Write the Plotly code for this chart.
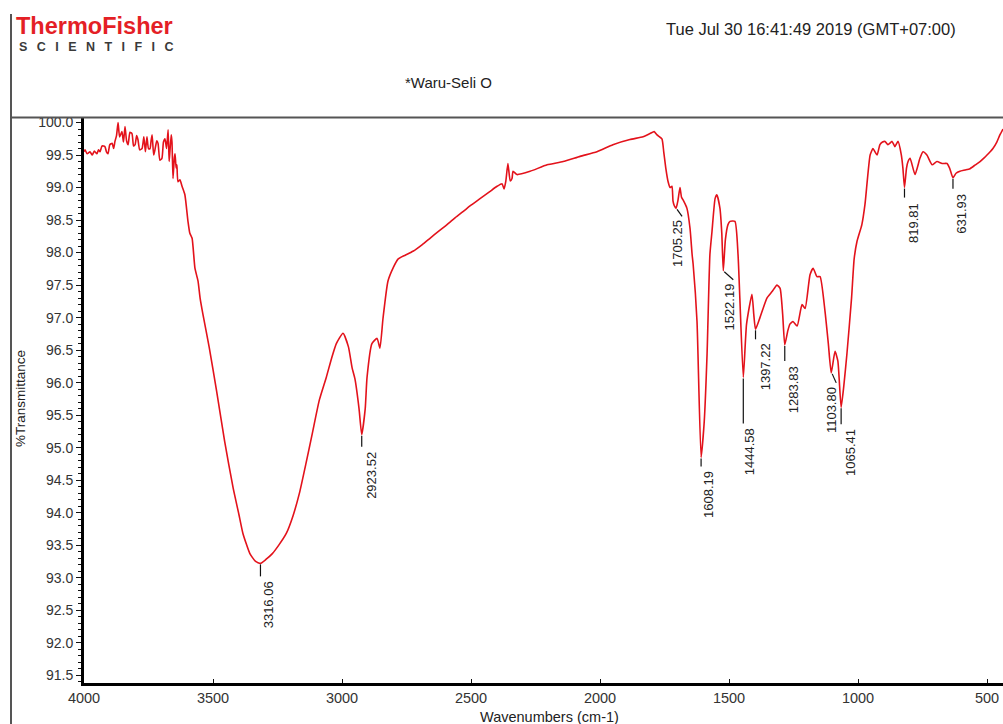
import plotly.graph_objects as go

# FT-IR spectrum: wavenumber (cm-1) vs %Transmittance
wavenumber = [
    4000, 3996, 3988, 3977, 3968, 3960, 3950, 3944, 3938, 3930, 3919, 3913, 3907,
    3900, 3891, 3885, 3880, 3874, 3868, 3862, 3853, 3847, 3841, 3835, 3829, 3822,
    3814, 3808, 3802, 3796, 3791, 3784, 3775, 3768, 3762, 3756, 3750, 3744, 3740,
    3736, 3730, 3725, 3718, 3713, 3706, 3698, 3692, 3686, 3680, 3674, 3670, 3667,
    3662, 3659, 3655, 3650, 3647, 3643, 3640, 3636, 3628, 3620, 3609, 3597, 3590,
    3581, 3570, 3558, 3550, 3539, 3515, 3486, 3455, 3422, 3400, 3384, 3357, 3335,
    3295, 3270, 3245, 3216, 3190, 3165, 3140, 3115, 3088, 3061, 3040, 3022, 2996,
    2975, 2961, 2950, 2934, 2910, 2903, 2884, 2864, 2853, 2841, 2822, 2800, 2783,
    2755, 2725, 2690, 2659, 2625, 2593, 2560, 2531, 2500, 2465, 2430, 2399, 2380,
    2372, 2365, 2357, 2348, 2341, 2337, 2322, 2271, 2205, 2143, 2077, 2012, 1950,
    1884, 1833, 1806, 1790, 1779, 1760, 1753, 1745, 1736, 1728, 1721, 1717, 1712,
    1698, 1690, 1684, 1678, 1663, 1651, 1643, 1639, 1624, 1596, 1585, 1574, 1566,
    1554, 1547, 1535, 1528, 1514, 1504, 1496, 1477, 1465, 1458, 1432, 1411, 1404,
    1380, 1353, 1333, 1314, 1302, 1292, 1272, 1264, 1252, 1236, 1217, 1205, 1186,
    1174, 1159, 1147, 1128, 1115, 1089, 1078, 1055, 1043, 1025, 1015, 1004, 985,
    973, 953, 942, 934, 926, 915, 905, 895, 884, 868, 857, 845, 832, 826, 812, 806,
    798, 779, 760, 748, 733, 713, 694, 674, 655, 645, 620, 605, 585, 566, 545, 527,
    510, 500, 488, 477, 462, 450, 438,
]
transmittance = [
    99.55, 99.58, 99.52, 99.55, 99.50, 99.56, 99.52, 99.58, 99.55, 99.64, 99.63, 99.55, 99.52,
    99.66, 99.68, 99.60, 99.71, 99.80, 100.00, 99.78, 99.86, 99.70, 99.94, 99.72, 99.66, 99.85,
    99.83, 99.64, 99.66, 99.80, 99.74, 99.58, 99.60, 99.78, 99.55, 99.78, 99.60, 99.60, 99.72,
    99.81, 99.50, 99.58, 99.72, 99.68, 99.42, 99.45, 99.70, 99.75, 99.60, 99.89, 99.40, 99.55,
    99.81, 99.70, 99.14, 99.45, 99.52, 99.30, 99.35, 99.09, 99.12, 99.02, 98.89, 98.48, 98.30,
    98.22, 97.76, 97.56, 97.30, 97.05, 96.55, 95.87, 95.10, 94.38, 93.98, 93.68, 93.37, 93.25,
    93.28, 93.37, 93.50, 93.68, 93.95, 94.30, 94.75, 95.22, 95.73, 96.08, 96.38, 96.60, 96.76,
    96.55, 96.23, 96.06, 95.60, 95.60, 96.08, 96.60, 96.68, 96.53, 96.99, 97.56, 97.78, 97.90,
    97.96, 98.02, 98.12, 98.22, 98.33, 98.43, 98.54, 98.63, 98.73, 98.83, 98.93, 99.02, 99.06,
    98.98, 99.10, 99.37, 99.10, 99.14, 99.25, 99.20, 99.25, 99.35, 99.40, 99.48, 99.55, 99.66,
    99.74, 99.78, 99.83, 99.86, 99.81, 99.75, 99.55, 99.30, 99.09, 99.00, 99.02, 98.79, 98.72,
    98.80, 99.00, 98.85, 98.81, 98.68, 98.37, 97.97, 97.82, 96.94, 95.40, 96.44, 97.97, 98.32,
    98.83, 98.89, 98.68, 98.30, 98.20, 98.43, 98.48, 98.48, 97.97, 97.30, 96.90, 97.36, 97.05,
    97.00, 97.30, 97.40, 97.50, 97.45, 97.05, 96.80, 96.90, 96.94, 96.87, 97.20, 97.14, 97.66,
    97.76, 97.63, 97.63, 97.10, 96.60, 96.48, 96.33, 95.95, 96.44, 97.30, 97.90, 98.17, 98.43,
    98.74, 99.50, 99.60, 99.55, 99.50, 99.66, 99.70, 99.71, 99.66, 99.71, 99.63, 99.71, 99.50,
    99.30, 99.30, 99.40, 99.45, 99.20, 99.45, 99.55, 99.50, 99.35, 99.40, 99.37, 99.37, 99.30,
    99.22, 99.25, 99.27, 99.29, 99.35, 99.40, 99.46, 99.50, 99.55, 99.60, 99.70, 99.81, 99.90,
]

# labelled absorption minima
peak_wavenumber = [3316.06, 2923.52, 1705.25, 1608.19, 1522.19, 1444.58,
                   1397.22, 1283.83, 1103.80, 1065.41, 819.81, 631.93]
peak_transmittance = [93.22, 95.20, 98.68, 94.85, 97.72, 96.08,
                      96.82, 96.58, 96.15, 95.62, 99.00, 99.15]
peak_text = ["3316.06", "2923.52", "1705.25", "1608.19", "1522.19", "1444.58",
             "1397.22", "1283.83", "1103.80", "1065.41", "819.81", "631.93"]

x_tick_values = [4000, 3500, 3000, 2500, 2000, 1500, 1000, 500]
y_tick_values = [91.5, 92.0, 92.5, 93.0, 93.5, 94.0, 94.5, 95.0, 95.5,
                 96.0, 96.5, 97.0, 97.5, 98.0, 98.5, 99.0, 99.5, 100.0]

sample_name = "*Waru-Seli O"
timestamp = "Tue Jul 30 16:41:49 2019 (GMT+07:00)"

# merge the labelled minima into the trace
points = sorted(zip(wavenumber + peak_wavenumber, transmittance + peak_transmittance),
                key=lambda p: -p[0])
xs = [p[0] for p in points]
ys = [p[1] for p in points]

W, H = 1003, 724
ML, MR, MT, MB = 84, 0, 118, 41
PW, PH = W - ML - MR, H - MT - MB


def px(xp):
    return (xp - ML) / PW


def py(yp):
    return (H - MB - yp) / PH


fig = go.Figure()
fig.add_trace(go.Scatter(
    x=xs, y=ys, mode="lines",
    line=dict(color="#e3121b", width=1.6, shape="spline", smoothing=0.5),
    hoverinfo="skip", showlegend=False,
))

# label leader style: (kind, leader length px, text x-shift px, gap px)
label_style = {
    "3316.06": ("v", 13, 8, 3),
    "2923.52": ("v", 12, 9, 3),
    "1705.25": ("hook", 8, 2, 2),
    "1608.19": ("v", 9, 8, 3),
    "1522.19": ("hook", 9, 6, 2),
    "1444.58": ("v", 46, 7, 3),
    "1397.22": ("v", 10, 10, 2),
    "1283.83": ("v", 16, 9, 3),
    "1103.80": ("hook", 10, 1, 2),
    "1065.41": ("v", 17, 10, 3),
    "819.81": ("v", 10, 9, 3),
    "631.93": ("v", 11, 9, 3),
}

shapes = []
annotations = []
for wn, tr, txt in zip(peak_wavenumber, peak_transmittance, peak_text):
    kind, length, dx, gap = label_style[txt]
    if kind == "v":
        x0p, x1p = 0, 0
    else:
        x0p, x1p = 1, dx + 4
    shapes.append(dict(
        type="line", xref="x", yref="y",
        xsizemode="pixel", xanchor=wn, x0=x0p, x1=x1p,
        ysizemode="pixel", yanchor=tr, y0=-1, y1=-length,
        line=dict(color="#111111", width=1.2),
    ))
    annotations.append(dict(
        x=wn, y=tr, xref="x", yref="y", text=txt, showarrow=False,
        textangle=-90, xanchor="center", yanchor="top",
        xshift=dx, yshift=-(length + gap),
        font=dict(family="Liberation Sans, Arial, sans-serif", size=13, color="#222222"),
    ))

# page frame: left rule and the rule under the header
shapes.append(dict(type="line", xref="paper", yref="paper",
                   x0=px(11), x1=px(11), y0=py(14), y1=py(724),
                   line=dict(color="#555555", width=2)))
shapes.append(dict(type="line", xref="paper", yref="paper",
                   x0=px(11), x1=px(1003), y0=py(117.5), y1=py(117.5),
                   line=dict(color="#555555", width=2)))

font_main = "Liberation Sans, Arial, sans-serif"
letter_gap = "\u00a0\u00a0\u2009"

annotations += [
    dict(text="<b>ThermoFisher</b>", xref="paper", yref="paper", x=px(14), y=py(25.5),
         xanchor="left", yanchor="middle", showarrow=False,
         font=dict(family=font_main, size=23.5, color="#e41f26")),
    dict(text="<b>" + letter_gap.join("SCIENTIFIC") + "</b>", xref="paper", yref="paper",
         x=px(17), y=py(46.5), xanchor="left", yanchor="middle", showarrow=False,
         font=dict(family=font_main, size=12.5, color="#3a3a3a")),
    dict(text=timestamp, xref="paper", yref="paper", x=px(811), y=py(29),
         xanchor="center", yanchor="middle", showarrow=False,
         font=dict(family=font_main, size=16.5, color="#222222")),
    dict(text=sample_name, xref="paper", yref="paper", x=px(448), y=py(83),
         xanchor="center", yanchor="middle", showarrow=False,
         font=dict(family=font_main, size=15, color="#222222")),
    dict(text="%Transmittance", xref="paper", yref="paper", x=px(20), y=py(399),
         xanchor="center", yanchor="middle", showarrow=False, textangle=-90,
         font=dict(family=font_main, size=13.5, color="#222222")),
    dict(text="Wavenumbers (cm-1)", xref="paper", yref="paper", x=px(549), y=py(717),
         xanchor="center", yanchor="middle", showarrow=False,
         font=dict(family=font_main, size=14.5, color="#222222")),
]

fig.update_layout(
    width=W, height=H,
    margin=dict(l=ML, r=MR, t=MT, b=MB, pad=0),
    paper_bgcolor="white", plot_bgcolor="white",
    shapes=shapes, annotations=annotations,
    font=dict(family=font_main, color="#333333"),
    xaxis=dict(
        range=[4000, 438], tickvals=x_tick_values,
        ticktext=[str(v) for v in x_tick_values],
        ticks="inside", ticklen=4, tickwidth=1, tickcolor="#111111",
        showline=True, linewidth=3, linecolor="#000000",
        showgrid=False, zeroline=False,
        tickfont=dict(size=14.5, color="#333333"),
    ),
    yaxis=dict(
        range=[91.38, 100.07], tickvals=y_tick_values,
        ticktext=["%.1f" % v for v in y_tick_values],
        ticks="outside", ticklen=5, tickwidth=1.2, tickcolor="#111111",
        minor=dict(dtick=0.1, ticks="outside", ticklen=3, tickwidth=1, tickcolor="#111111"),
        showline=True, linewidth=3, linecolor="#000000",
        showgrid=False, zeroline=False,
        tickfont=dict(size=14, color="#333333"),
    ),
)

fig.write_html("out.html")
